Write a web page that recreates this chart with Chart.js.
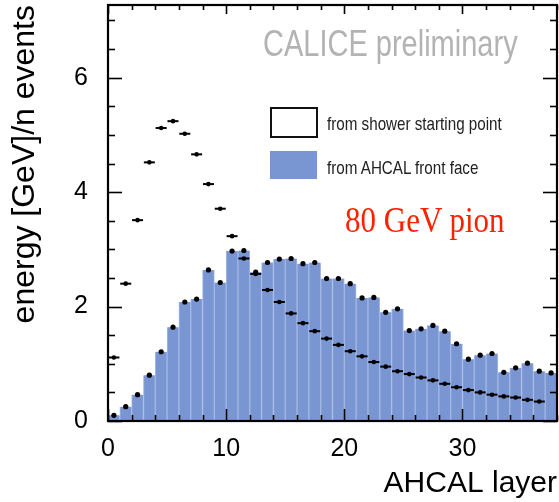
<!DOCTYPE html>
<html>
<head>
<meta charset="utf-8">
<script src="https://cdn.jsdelivr.net/npm/chart.js@4.4.1/dist/chart.umd.min.js"></script>
<style>
html,body{margin:0;padding:0;background:#fff;}
#wrap{position:relative;width:559px;height:502px;overflow:hidden;}
#c{position:absolute;left:0;top:0;}
.note{position:absolute;white-space:nowrap;line-height:1;font-family:"Liberation Sans",Arial,Helvetica,sans-serif;transform-origin:left top;}
.box{position:absolute;box-sizing:border-box;}
</style>
</head>
<body>
<div id="wrap">
<canvas id="c" width="559" height="502"></canvas>
<div class="note" style="left:263px;top:25px;font-size:29px;color:#b3b3b3;transform:scaleY(1.3);">CALICE preliminary</div>
<div class="box" style="left:270px;top:107px;width:48px;height:31px;border:2px solid #111;background:#fff;"></div>
<div class="box" style="left:270px;top:151px;width:47px;height:28px;background:#7a96d2;"></div>
<div class="note" style="left:327px;top:114px;font-size:15.2px;color:#222;transform:scaleY(1.25);">from shower starting point</div>
<div class="note" style="left:327px;top:158px;font-size:15.2px;color:#222;transform:scaleY(1.25);">from AHCAL front face</div>
<div class="note" style="left:345px;top:202px;font-size:31px;color:#ff2000;font-family:'Liberation Serif','Times New Roman',serif;transform:scaleY(1.15);">80 GeV pion</div>
</div>
<script>
// ---- data ----
const layers = [0,1,2,3,4,5,6,7,8,9,10,11,12,13,14,15,16,17,18,19,20,21,22,23,24,25,26,27,28,29,30,31,32,33,34,35,36,37];
const frontFace = [0.10,0.25,0.46,0.80,1.21,1.64,2.08,2.13,2.64,2.42,2.97,2.98,2.60,2.77,2.83,2.84,2.75,2.77,2.49,2.49,2.40,2.15,2.16,1.90,1.96,1.58,1.61,1.67,1.57,1.35,1.08,1.15,1.18,0.85,0.93,1.01,0.87,0.84];
const showerStart = [1.11,2.40,3.51,4.52,5.12,5.24,5.02,4.66,4.14,3.71,3.23,2.84,2.57,2.29,2.08,1.88,1.71,1.57,1.44,1.33,1.22,1.13,1.03,0.95,0.87,0.82,0.76,0.71,0.65,0.59,0.54,0.50,0.46,0.43,0.41,0.37,0.34,null];
const xTickLabels = [0,10,20,30];
const yTickLabels = [0,2,4,6];
const xRange = [0,38];
const yRange = [0,7.27];

const frontPts = layers.map((l,i)=>({x:l+0.5,y:frontFace[i]}));
const showerPts = layers.map((l,i)=>({x:l+0.5,y:showerStart[i]})).filter(p=>p.y!==null);

const FONT = '"Liberation Sans", Arial, Helvetica, sans-serif';

const framePlugin = {
  id:'frame',
  afterDatasetsDraw(chart){
    const {ctx, chartArea:a, scales:{x,y}} = chart;
    ctx.save();
    ctx.strokeStyle = '#000';
    const seg=(x1,y1,x2,y2)=>{ctx.beginPath();ctx.moveTo(x1,y1);ctx.lineTo(x2,y2);ctx.stroke();};
    ctx.lineWidth = 1.6;
    for (let v = x.min; v <= x.max + 1e-9; v += 2) {
      const px = Math.round(x.getPixelForValue(v)) + 0.5;
      const major = Math.abs(v % 10) < 1e-9;
      seg(px, a.bottom, px, a.bottom - (major ? 12 : 6));
      seg(px, a.top, px, a.top + (major ? 9 : 5));
    }
    for (let v = y.min; v <= y.max + 1e-9; v += 0.5) {
      const py = Math.round(y.getPixelForValue(v)) + 0.5;
      const major = Math.abs(v % 2) < 1e-9;
      seg(a.left, py, a.left + (major ? 14 : 7), py);
      seg(a.right, py, a.right - (major ? 14 : 7), py);
    }
    ctx.lineWidth = 2.2;
    ctx.strokeRect(a.left, a.top, a.right - a.left, a.bottom - a.top);
    ctx.restore();
  }
};

new Chart(document.getElementById('c'), {
  type: 'bar',
  data: {
    datasets: [
      {
        type: 'scatter',
        label: 'from shower starting point (marker)',
        data: showerPts,
        pointStyle: 'circle',
        pointRadius: 2.3,
        pointBackgroundColor: '#000',
        pointBorderColor: '#000',
        pointBorderWidth: 0,
        order: 1
      },
      {
        type: 'scatter',
        label: 'from shower starting point',
        data: showerPts,
        pointStyle: 'line',
        pointRadius: 5.5,
        pointBorderColor: '#000',
        pointBorderWidth: 2,
        order: 2
      },
      {
        type: 'scatter',
        label: 'from AHCAL front face (marker)',
        data: frontPts,
        pointStyle: 'circle',
        pointRadius: 2.6,
        pointBackgroundColor: '#000',
        pointBorderColor: '#000',
        pointBorderWidth: 0,
        order: 3
      },
      {
        type: 'bar',
        label: 'from AHCAL front face',
        data: frontPts,
        backgroundColor: '#7a96d2',
        borderColor: '#a4b8e4',
        borderWidth: {left:1, right:1, top:0, bottom:0},
        borderSkipped: false,
        barPercentage: 1,
        categoryPercentage: 1,
        order: 4
      }
    ]
  },
  options: {
    responsive: false,
    animation: false,
    events: [],
    layout: {autoPadding: false, padding: {top: 5, right: 2, left: 0, bottom: 0}},
    plugins: {legend: {display: false}, tooltip: {enabled: false}},
    scales: {
      x: {
        type: 'linear',
        min: xRange[0], max: xRange[1],
        offset: false,
        afterBuildTicks: s => { s.ticks = xTickLabels.map(v => ({value: v})); },
        afterFit: s => { s.height = 81; s.paddingLeft = 0; s.paddingRight = 0; },
        grid: {display: false, drawTicks: false},
        border: {display: false},
        ticks: {color: '#000', padding: 13, maxRotation: 0, autoSkip: false, font: {family: FONT, size: 25}},
        title: {display: true, text: 'AHCAL layer', align: 'end', color: '#000', padding: {top: 0, bottom: 0}, font: {family: FONT, size: 30, lineHeight: 1.2}}
      },
      y: {
        type: 'linear',
        min: yRange[0], max: yRange[1],
        afterBuildTicks: s => { s.ticks = yTickLabels.map(v => ({value: v})); },
        afterFit: s => { s.width = 108; s.paddingTop = 0; s.paddingBottom = 0; },
        grid: {display: false, drawTicks: false},
        border: {display: false},
        ticks: {color: '#000', padding: 20, autoSkip: false, font: {family: FONT, size: 25}},
        title: {display: true, text: 'energy [GeV]/n events', align: 'end', color: '#000', padding: {top: 6, bottom: 0}, font: {family: FONT, size: 32, lineHeight: 1.2}}
      }
    }
  },
  plugins: [framePlugin]
});
</script>
</body>
</html>
